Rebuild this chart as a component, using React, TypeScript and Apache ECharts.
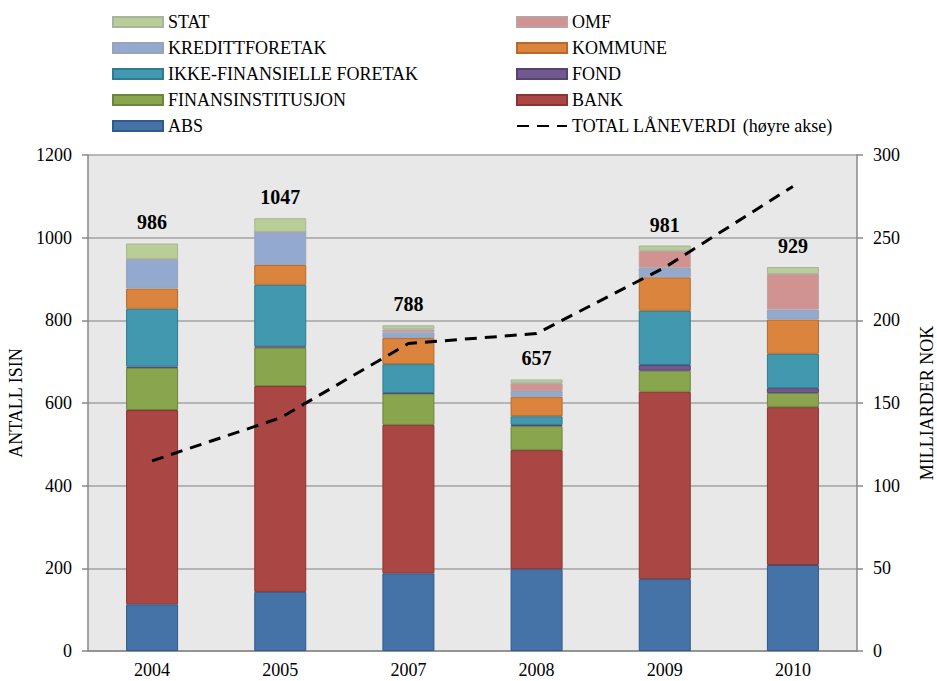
import React, { useEffect, useRef } from "react";
import * as echarts from "echarts";

const categories = ["2004", "2005", "2007", "2008", "2009", "2010"];
const absVals = [113, 143, 188, 198, 174, 208];
const bankVals = [470, 498, 359, 288, 453, 382];
const finansVals = [102, 93, 76, 58, 51, 34];
const fondVals = [3, 3, 1, 3, 14, 12];
const ikkeVals = [140, 149, 70, 21, 131, 83];
const kommuneVals = [49, 48, 63, 47, 81, 83];
const kredittVals = [71, 80, 14, 14, 23, 24];
const omfVals = [0, 0, 7, 19, 41, 86];
const statVals = [38, 33, 10, 9, 13, 17];
const totals = [986, 1047, 788, 657, 981, 929];
const laneverdi = [115, 141, 186, 192, 232, 281];
const leftTicks = [0, 200, 400, 600, 800, 1000, 1200];
const rightTicks = [0, 50, 100, 150, 200, 250, 300];

const FONT = "'Liberation Serif', 'Times New Roman', serif";
const LINE_NAME = "TOTAL LÅNEVERDI (høyre akse)";

export default function App() {
  const ref = useRef<HTMLDivElement>(null);
  useEffect(() => {
    if (!ref.current) return;
    const chart = echarts.init(ref.current, undefined, { renderer: "svg" });
    const barSeries = (name: string, data: number[], color: string, border: string, extra: any = {}) => ({
      name,
      type: "bar",
      stack: "isin",
      data,
      barWidth: 52,
      itemStyle: { color, borderColor: border, borderWidth: 1 },
      ...extra,
    });
    const option: any = {
      animation: false,
      backgroundColor: "#ffffff",
      textStyle: { fontFamily: FONT },
      grid: {
        left: 88,
        right: 80,
        top: 155,
        bottom: 30,
        show: true,
        backgroundColor: "#e8e8e8",
        borderWidth: 0,
        outerBoundsMode: "none",
        containLabel: false,
      },
      legend: [
        {
          orient: "vertical",
          left: 112,
          top: 12,
          padding: 0,
          itemWidth: 50,
          itemHeight: 10,
          itemGap: 6,
          textStyle: { fontFamily: FONT, fontSize: 18, lineHeight: 20, color: "#000" },
          data: [
            { name: "STAT", icon: "rect" },
            { name: "KREDITTFORETAK", icon: "rect" },
            { name: "IKKE-FINANSIELLE FORETAK", icon: "rect" },
            { name: "FINANSINSTITUSJON", icon: "rect" },
            { name: "ABS", icon: "rect" },
          ],
        },
        {
          orient: "vertical",
          left: 516,
          top: 12,
          padding: 0,
          itemWidth: 50,
          itemHeight: 10,
          itemGap: 6,
          textStyle: {
            fontFamily: FONT,
            fontSize: 18,
            lineHeight: 20,
            color: "#000",
            rich: {
              a: { fontFamily: FONT, fontSize: 18, lineHeight: 20, color: "#000" },
              b: { fontFamily: FONT, fontSize: 18, lineHeight: 20, color: "#000", padding: [0, 0, 0, 6] },
            },
          },
          formatter: (n: string) =>
            n === LINE_NAME ? "{a|TOTAL LÅNEVERDI}{b|(høyre akse)}" : n,
          data: [
            { name: "OMF", icon: "rect" },
            { name: "KOMMUNE", icon: "rect" },
            { name: "FOND", icon: "rect" },
            { name: "BANK", icon: "rect" },
            { name: LINE_NAME, itemStyle: { opacity: 0 } },
          ],
        },
      ],
      xAxis: {
        type: "category",
        data: categories,
        axisLine: { lineStyle: { color: "#888888", width: 1.5 } },
        axisTick: { show: false },
        axisLabel: { fontFamily: FONT, fontSize: 18, color: "#000", margin: 10 },
      },
      yAxis: [
        {
          type: "value",
          min: leftTicks[0],
          max: leftTicks[leftTicks.length - 1],
          interval: leftTicks[1] - leftTicks[0],
          name: "ANTALL ISIN",
          nameLocation: "middle",
          nameRotate: 90,
          nameGap: 63,
          nameTextStyle: { fontFamily: FONT, fontSize: 18, color: "#000" },
          axisLine: { show: true, lineStyle: { color: "#888888", width: 1.5 } },
          axisTick: { show: true, length: 6, lineStyle: { color: "#888888", width: 1.5 } },
          axisLabel: {
            fontFamily: FONT,
            fontSize: 18,
            color: "#000",
            margin: 16,
            formatter: (v: number) => String(v),
          },
          splitLine: { show: true, lineStyle: { color: "#a3a3a3", width: 1.5 } },
        },
        {
          type: "value",
          min: rightTicks[0],
          max: rightTicks[rightTicks.length - 1],
          interval: rightTicks[1] - rightTicks[0],
          position: "right",
          name: "MILLIARDER NOK",
          nameLocation: "middle",
          nameRotate: 90,
          nameGap: 61,
          nameTextStyle: { fontFamily: FONT, fontSize: 18, color: "#000" },
          axisLine: { show: true, lineStyle: { color: "#888888", width: 1.5 } },
          axisTick: { show: true, length: 6, lineStyle: { color: "#888888", width: 1.5 } },
          axisLabel: {
            fontFamily: FONT,
            fontSize: 18,
            color: "#000",
            margin: 16,
            formatter: (v: number) => String(v),
          },
          splitLine: { show: false },
        },
      ],
      series: [
        barSeries("ABS", absVals, "#4572A7", "#2f5a8a"),
        barSeries("BANK", bankVals, "#AA4643", "#8a3533"),
        barSeries("FINANSINSTITUSJON", finansVals, "#89A54E", "#6d843c"),
        barSeries("FOND", fondVals, "#71588F", "#574370"),
        barSeries("IKKE-FINANSIELLE FORETAK", ikkeVals, "#4198AF", "#2f7a8e"),
        barSeries("KOMMUNE", kommuneVals, "#DB843D", "#b5692c"),
        barSeries("KREDITTFORETAK", kredittVals, "#93A9CF", "#9aa3b5"),
        barSeries("OMF", omfVals, "#D19392", "#b9a3a3"),
        barSeries("STAT", statVals, "#B9CD96", "#a9b39f", {
          label: {
            show: true,
            position: "top",
            distance: 11,
            fontFamily: FONT,
            fontSize: 20,
            fontWeight: "bold",
            color: "#000",
            formatter: (p: any) => String(totals[p.dataIndex]),
          },
        }),
        {
          name: LINE_NAME,
          type: "line",
          yAxisIndex: 1,
          data: laneverdi,
          symbol: "none",
          lineStyle: { color: "#000", width: 3, type: [12, 8], cap: "butt" },
          itemStyle: { color: "#000" },
          z: 10,
        },
      ],
    };
    chart.setOption(option);
    return () => chart.dispose();
  }, []);
  return (
    <div
      ref={ref}
      style={{ position: "absolute", left: 0, top: 0, width: 937, height: 681 }}
    />
  );
}
